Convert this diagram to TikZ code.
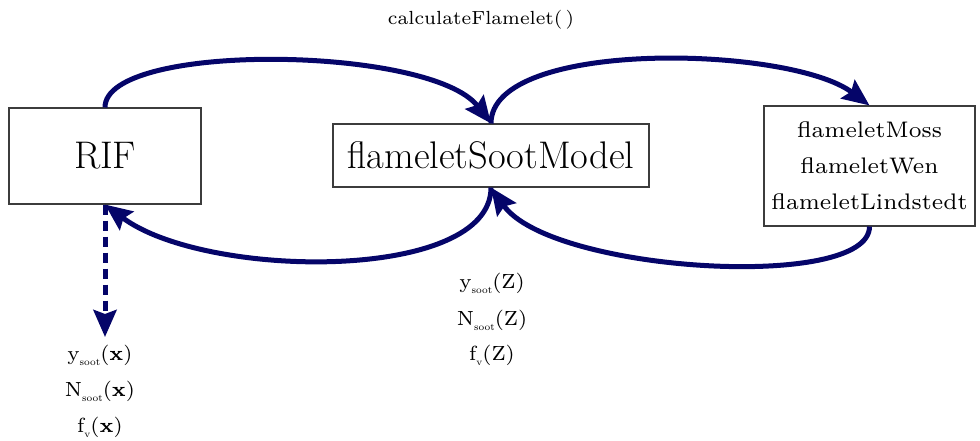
\documentclass[tikz,border=0pt]{standalone}
\usepackage{fontspec}
\newfontfamily\lmsmall{lmroman7-regular}[Extension=.otf,BoldFont=lmroman7-bold]
\usetikzlibrary{arrows.meta}
\definecolor{navy}{RGB}{5,5,105}
\definecolor{boxline}{RGB}{60,60,60}
\newcommand{\sootsub}[1]{{\fontsize{10}{10}\selectfont\raisebox{-5pt}{#1}}}
\begin{document}
\begin{tikzpicture}[x=1pt,y=1pt,
  box/.style={draw=boxline,line width=1.1pt,rectangle,inner sep=0pt},
  flow/.style={draw=navy,line width=5pt,-{Stealth[length=27pt,width=23pt,inset=4pt]}},
  big/.style={font=\fontsize{38.5}{42}\selectfont},
  midtext/.style={font=\lmsmall\fontsize{22.5}{36}\selectfont,align=center},
  lab/.style={font=\lmsmall\fontsize{19}{22}\selectfont},
  flab/.style={font=\lmsmall\fontsize{20.5}{22}\selectfont}]
\useasboundingbox (0,0) rectangle (980,-441);
\node[box,big,minimum width=192,minimum height=96] (rif) at (105,-156) {RIF};
\node[box,big,minimum width=316,minimum height=63] (fsm) at (491,-155.5) {flameletSootModel};
\node[box,midtext,minimum width=211,minimum height=120] (mod) at (869.5,-166) {flameletMoss\\flameletWen\\flameletLindstedt};
\node[lab] (calc) at (481,-20) {calculateFlamelet(\,)};
\coordinate (dend) at (105,-337);
\node[flab] (l1) at (100,-355) {y\sootsub{soot}(\textbf{x})};
\node[flab] (l2) at (100,-391) {N\sootsub{soot}(\textbf{x})};
\node[flab] (l3) at (100,-427) {f\sootsub{v}(\textbf{x})};
\node[flab] (c1) at (492,-283) {y\sootsub{soot}(Z)};
\node[flab] (c2) at (492,-320) {N\sootsub{soot}(Z)};
\node[flab] (c3) at (492,-355) {f\sootsub{v}(Z)};
\draw[flow] (rif.north) .. controls +(0,66) and +(-60,78) .. (fsm.north);
\draw[flow] (fsm.north) .. controls +(0,85) and +(-80,60) .. (mod.north);
\draw[flow] (mod.south) .. controls +(0,-65) and +(60,-85) .. (fsm.south);
\draw[flow] (fsm.south) .. controls +(0,-95) and +(100,-75) .. (rif.south);
\draw[flow,dash pattern=on 10pt off 6pt] (rif.south) -- (dend);
\end{tikzpicture}
\end{document}
